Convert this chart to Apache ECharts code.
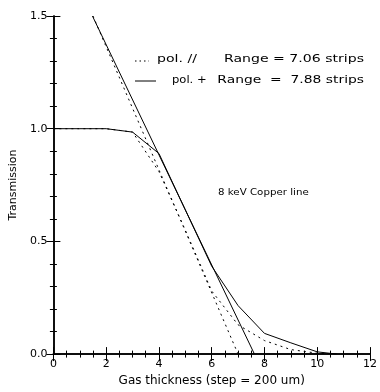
<!DOCTYPE html>
<html>
<head>
<meta charset="utf-8">
<style>
  html, body { margin: 0; padding: 0; background: #fff; }
  #chart { width: 380px; height: 392px; }
</style>
<script src="https://cdn.jsdelivr.net/npm/echarts@6/dist/echarts.min.js"></script>
</head>
<body>
<div id="chart"></div>
<script>
// Gas thickness (in 200 um steps) and measured transmission
const thicknessPar = [0, 1, 2, 3, 4, 5, 6, 7, 8, 9, 10, 10.75];
const transPar     = [1.0, 1.0, 1.0, 0.985, 0.81, 0.55, 0.28, 0.13, 0.06, 0.02, 0.004, 0.0];

const thicknessPerp = [0, 1, 2, 3, 4, 5, 6, 7, 8, 9, 10, 10.75];
const transPerp     = [1.0, 1.0, 1.0, 0.985, 0.89, 0.64, 0.39, 0.215, 0.092, 0.05, 0.01, 0.0];

// Linear fits of the falling edge (start point, end point)
const fitParX  = [1.5, 7.0];
const fitParY  = [1.5, 0.0];
const fitPerpX = [1.48, 7.62];
const fitPerpY = [1.5, 0.0];

const xTicks = [0, 2, 4, 6, 8, 10, 12];
const yTicks = [0.0, 0.5, 1.0, 1.5];

const legendParName   = 'pol. //';
const legendParRange  = 'Range = 7.06 strips';
const legendPerpName  = 'pol. +';
const legendPerpRange = 'Range  =  7.88 strips';
const noteText        = '8 keV Copper line';

const pairs = (xs, ys) => xs.map((x, i) => [x, ys[i]]);

const FONT = '"DejaVu Sans", sans-serif';
// negative lengths turn every tick towards the inside of the frame
const tickStyle  = { show: true, length: -7, lineStyle: { color: '#000', width: 1 } };
const minorStyle = { show: true, length: -3.5, lineStyle: { color: '#000', width: 1 } };

function label(text, x, y, align, size, scale) {
  return {
    type: 'text', x: x, y: y, scaleX: scale, z: 10,
    style: { text: text, fill: '#000', font: size + 'px ' + FONT,
             align: align, verticalAlign: 'middle' }
  };
}

const chart = echarts.init(document.getElementById('chart'), null, { renderer: 'canvas' });

chart.setOption({
  animation: false,
  backgroundColor: '#fff',
  grid: { left: 51, right: 8, top: 16, bottom: 37 },
  xAxis: [
    {
      type: 'value', min: 0, max: 12, interval: 2, position: 'bottom',
      name: 'Gas thickness (step = 200 um)', nameLocation: 'middle', nameGap: 16,
      nameTextStyle: { color: '#000', fontFamily: FONT, fontSize: 12 },
      axisLine: { show: true, onZero: false, lineStyle: { color: '#000', width: 1.5 } },
      axisTick: tickStyle,
      minorTick: Object.assign({ splitNumber: 4 }, minorStyle),
      axisLabel: { color: '#000', fontFamily: FONT, fontSize: 11, margin: 5,
                   formatter: v => xTicks.includes(v) ? String(v) : '' },
      splitLine: { show: false }
    },
    {
      type: 'value', min: 0, max: 12, interval: 2, position: 'top',
      axisLine: { show: true, lineStyle: { color: '#000', width: 1.5 } },
      axisTick: tickStyle,
      minorTick: Object.assign({ splitNumber: 4 }, minorStyle),
      axisLabel: { show: false },
      splitLine: { show: false }
    }
  ],
  yAxis: [
    {
      type: 'value', min: 0, max: 1.5, interval: 0.5, position: 'left',
      name: 'Transmission', nameLocation: 'middle', nameGap: 32,
      nameTextStyle: { color: '#000', fontFamily: FONT, fontSize: 11 },
      axisLine: { show: true, onZero: false, lineStyle: { color: '#000', width: 1.5 } },
      axisTick: tickStyle,
      minorTick: Object.assign({ splitNumber: 5 }, minorStyle),
      axisLabel: { color: '#000', fontFamily: FONT, fontSize: 11, margin: 6,
                   formatter: v => yTicks.some(t => Math.abs(t - v) < 1e-9) ? v.toFixed(1) : '' },
      splitLine: { show: false }
    },
    {
      type: 'value', min: 0, max: 1.5, interval: 0.5, position: 'right',
      axisLine: { show: true, lineStyle: { color: '#000', width: 1.5 } },
      axisTick: tickStyle,
      minorTick: Object.assign({ splitNumber: 5 }, minorStyle),
      axisLabel: { show: false },
      splitLine: { show: false }
    }
  ],
  graphic: [
    // legend, first row: dotted sample
    { type: 'line', shape: { x1: 135, y1: 61, x2: 149, y2: 61 }, z: 10,
      style: { stroke: '#000', lineWidth: 1.2, lineDash: [1.5, 3] } },
    label(legendParName, 157, 59, 'left', 11, 1.28),
    label(legendParRange, 364, 59, 'right', 11, 1.28),
    // legend, second row: solid sample
    { type: 'line', shape: { x1: 135, y1: 81, x2: 156, y2: 81 }, z: 10,
      style: { stroke: '#000', lineWidth: 1 } },
    label(legendPerpName, 172, 80, 'left', 11, 1.05),
    label(legendPerpRange, 364, 80, 'right', 11, 1.26),
    // note
    label(noteText, 218, 193, 'left', 9, 1.14)
  ],
  series: [
    {
      name: 'pol. //', type: 'line', data: pairs(thicknessPar, transPar),
      showSymbol: false, symbol: 'none',
      lineStyle: { color: '#000', width: 1, type: [2, 4] }
    },
    {
      name: 'pol. // fit', type: 'line', data: pairs(fitParX, fitParY),
      showSymbol: false, symbol: 'none',
      lineStyle: { color: '#000', width: 1, type: [2, 4] }
    },
    {
      name: 'pol. +', type: 'line', data: pairs(thicknessPerp, transPerp),
      showSymbol: false, symbol: 'none',
      lineStyle: { color: '#000', width: 1 }
    },
    {
      name: 'pol. + fit', type: 'line', data: pairs(fitPerpX, fitPerpY),
      showSymbol: false, symbol: 'none',
      lineStyle: { color: '#000', width: 1 }
    }
  ]
});
</script>
</body>
</html>
